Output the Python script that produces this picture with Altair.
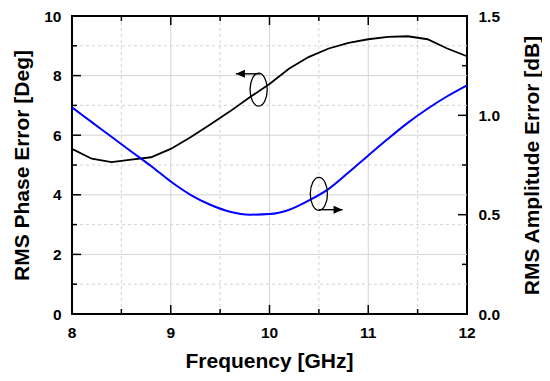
import altair as alt
import pandas as pd

# ---------------- data ----------------
freq = [8.0, 8.2, 8.4, 8.6, 8.8, 9.0, 9.2, 9.4, 9.6, 9.8, 10.0,
        10.2, 10.4, 10.6, 10.8, 11.0, 11.2, 11.4, 11.6, 11.8, 12.0]
phase_err = [5.54, 5.21, 5.10, 5.18, 5.26, 5.54, 5.93, 6.36, 6.80, 7.27, 7.72,
             8.24, 8.63, 8.91, 9.10, 9.22, 9.30, 9.32, 9.22, 8.91, 8.65]
amp_err = [1.040, 0.966, 0.892, 0.818, 0.745, 0.667, 0.600, 0.550, 0.515, 0.500, 0.503,
           0.525, 0.572, 0.630, 0.712, 0.798, 0.882, 0.962, 1.033, 1.096, 1.151]

x_labels = [8, 9, 10, 11, 12]
x_minor = [8.5, 9.5, 10.5, 11.5]
x_grid_major = [9, 10, 11]
yl_labels = [0, 2, 4, 6, 8, 10]
yl_minor = [1, 3, 5, 7, 9]
yl_grid_major = [2, 4, 6, 8]
yr_labels = [0.0, 0.5, 1.0, 1.5]
yr_minor = [0.25, 0.75, 1.25]
YL_MAX, YR_MAX = 10.0, 1.5
x_title = "Frequency [GHz]"

# annotation markers (left-axis units)
ell_x = [9.89, 10.50]
ell_y = [7.53, 4.03]
arr_start = [9.91, 10.50]
arr_tip = [9.66, 10.74]
arr_y = [8.06, 3.50]
arr_dir = ["left", "right"]

W, H = 395, 298
FONT = "Liberation Sans"
MAJ, MIN = 9, 5
GRID = "#d4d4d4"
K = YL_MAX / YR_MAX  # right-axis value -> left-axis units

df = pd.DataFrame({"f": freq, "phase": phase_err, "amp": amp_err})
xs = alt.Scale(domain=[8, 12], nice=False, zero=False)
ys = alt.Scale(domain=[0, YL_MAX], nice=False, zero=False)

def vals(v):
    return pd.DataFrame({"v": v})

lab = dict(labelFont=FONT, labelFontSize=15.5, labelFontWeight="bold", labelColor="black",
           labelFlush=False, ticks=False, domain=False, grid=False)
tit = dict(titleFont=FONT, titleFontSize=21, titleFontWeight="bold", titleColor="black",
           titleBaseline="alphabetic", titleAlign="center")

layers = []

# grids
layers.append(alt.Chart(vals(x_grid_major)).mark_rule(color=GRID, strokeWidth=1).encode(
    x=alt.X("v:Q", scale=xs, axis=None)))
layers.append(alt.Chart(vals(x_minor)).mark_rule(color=GRID, strokeWidth=1, strokeDash=[3, 3]).encode(
    x=alt.X("v:Q", scale=xs, axis=None)))
layers.append(alt.Chart(vals(yl_grid_major)).mark_rule(color=GRID, strokeWidth=1).encode(
    y=alt.Y("v:Q", scale=ys, axis=None)))
layers.append(alt.Chart(vals(yl_minor)).mark_rule(color=GRID, strokeWidth=1, strokeDash=[3, 3]).encode(
    y=alt.Y("v:Q", scale=ys, axis=None)))

# phase line with left axis
layers.append(alt.Chart(df).mark_line(color="black", strokeWidth=1.8).encode(
    x=alt.X("f:Q", scale=xs, axis=None),
    y=alt.Y("phase:Q", scale=ys, axis=alt.Axis(
        orient="left", values=yl_labels, format="d", labelPadding=11,
        title="RMS Phase Error [Deg]", titleAngle=270, titleX=-44, titleY=H / 2, **lab, **tit)),
))

# amplitude line with right axis (same y scale, values converted)
layers.append(alt.Chart(df).transform_calculate(ya=f"datum.amp * {K}").mark_line(
    color="#0000ff", strokeWidth=2, interpolate="monotone").encode(
    x=alt.X("f:Q", scale=xs, axis=None),
    y=alt.Y("ya:Q", scale=ys, axis=alt.Axis(
        orient="right", values=[v * K for v in yr_labels],
        labelExpr=f"format(datum.value / {K}, '.1f')", labelPadding=11,
        title="RMS Amplitude Error [dB]", titleAngle=270, titleX=71, titleY=H / 2, **lab, **tit)),
))

# x tick labels and x title as text marks
layers.append(alt.Chart(vals(x_labels)).mark_text(
    font=FONT, fontSize=15.5, fontWeight="bold", color="black", baseline="top", align="center").encode(
    x=alt.X("v:Q", scale=xs, axis=None), y=alt.value(H + 12), text=alt.Text("v:Q", format="d")))
layers.append(alt.Chart(pd.DataFrame({"t": [x_title]})).mark_text(
    font=FONT, fontSize=21, fontWeight="bold", color="black", baseline="alphabetic", align="center").encode(
    x=alt.value(W / 2), y=alt.value(H + 54), text="t:N"))

# inward ticks
for v, length in ((x_labels, MAJ), (x_minor, MIN)):
    layers.append(alt.Chart(vals(v)).mark_rule(color="black", strokeWidth=1.5).encode(
        x=alt.X("v:Q", scale=xs, axis=None), y=alt.value(H), y2=alt.value(H - length)))
    layers.append(alt.Chart(vals(v)).mark_rule(color="black", strokeWidth=1.5).encode(
        x=alt.X("v:Q", scale=xs, axis=None), y=alt.value(0), y2=alt.value(length)))
for v, length in ((yl_labels, MAJ), (yl_minor, MIN)):
    layers.append(alt.Chart(vals(v)).mark_rule(color="black", strokeWidth=1.5).encode(
        y=alt.Y("v:Q", scale=ys, axis=None), x=alt.value(0), x2=alt.value(length)))
for v, length in ((yr_labels, MAJ), (yr_minor, MIN)):
    layers.append(alt.Chart(vals(v)).transform_calculate(w=f"datum.v * {K}").mark_rule(
        color="black", strokeWidth=1.5).encode(
        y=alt.Y("w:Q", scale=ys, axis=None), x=alt.value(W), x2=alt.value(W - length)))

# annotations
ann = pd.DataFrame({"x": ell_x, "y": ell_y})
layers.append(alt.Chart(ann).mark_point(
    shape="M0,-1 A0.52,1 0 1,1 0,1 A0.52,1 0 1,1 0,-1 Z", size=33 * 33,
    filled=False, stroke="black", strokeWidth=1.3, opacity=1).encode(
    x=alt.X("x:Q", scale=xs, axis=None), y=alt.Y("y:Q", scale=ys, axis=None)))

arr = pd.DataFrame({"s": arr_start, "t": arr_tip, "y": arr_y, "d": arr_dir})
layers.append(alt.Chart(arr).mark_rule(color="black", strokeWidth=1.4).encode(
    x=alt.X("s:Q", scale=xs, axis=None), x2=alt.X2("t"), y=alt.Y("y:Q", scale=ys, axis=None)))
layers.append(alt.Chart(arr).transform_filter(alt.datum.d == "left").mark_point(
    shape="M0,0 L2,-0.9 L2,0.9 Z", size=81, filled=True, color="black", opacity=1).encode(
    x=alt.X("t:Q", scale=xs, axis=None), y=alt.Y("y:Q", scale=ys, axis=None)))
layers.append(alt.Chart(arr).transform_filter(alt.datum.d == "right").mark_point(
    shape="M0,0 L-2,-0.9 L-2,0.9 Z", size=81, filled=True, color="black", opacity=1).encode(
    x=alt.X("t:Q", scale=xs, axis=None), y=alt.Y("y:Q", scale=ys, axis=None)))

chart = alt.layer(*layers).resolve_axis(y="independent").properties(
    width=W, height=H,
    background="white",
    autosize=alt.AutoSizeParams(type="none"),
    padding={"left": 64, "top": 8, "right": 75, "bottom": 59},
).configure_view(stroke="black", strokeWidth=2)

chart.save("out.html", embed_options={"renderer": "svg", "actions": False})
